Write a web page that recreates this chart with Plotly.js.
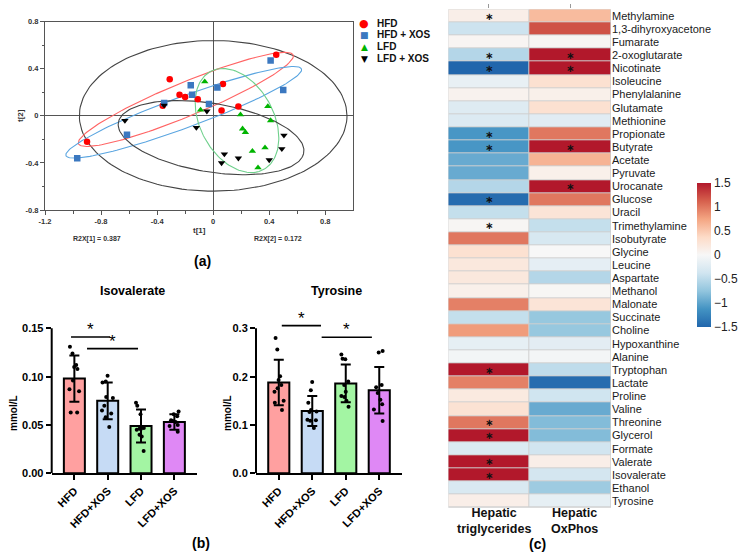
<!DOCTYPE html>
<html>
<head>
<meta charset="utf-8">
<script src="https://cdn.plot.ly/plotly-3.0.1.min.js"></script>
<style>html,body{margin:0;padding:0;background:#fff;}#chart{width:748px;height:560px;}</style>
</head>
<body>
<div id="chart"></div>
<script>
// ---------- Panel (a): score plot ----------
const hfdT1 = [-0.90, -0.36, -0.31, -0.24, -0.20, -0.11, 0.06, 0.07, 0.18, 0.45];
const hfdT2 = [-0.22, 0.085, 0.31, 0.18, 0.16, 0.14, 0.045, 0.27, 0.08, 0.52];
const hfdXosT1 = [-0.97, -0.615, -0.35, -0.16, -0.15, -0.03, 0.03, 0.41, 0.50];
const hfdXosT2 = [-0.36, -0.16, 0.11, 0.26, 0.18, 0.10, 0.24, 0.47, 0.22];
const lfdT1 = [-0.06, -0.09, 0.195, 0.21, 0.23, 0.28, 0.32, 0.37, 0.39, 0.41];
const lfdT2 = [0.29, 0.05, 0.01, -0.11, -0.14, -0.30, -0.44, -0.27, 0.08, -0.04];
const lfdXosT1 = [-0.63, -0.35, -0.12, -0.045, 0.06, 0.08, 0.18, 0.40, 0.49, 0.505];
const lfdXosT2 = [-0.04, 0.09, -0.10, 0.04, -0.40, -0.325, -0.36, -0.375, -0.28, -0.165];

// confidence ellipses: overall, HFD, HFD+XOS, LFD, LFD+XOS
const ellCx = [0, -0.195, -0.21, 0.17, -0.015];
const ellCy = [0, 0.14, 0.03, -0.04, -0.185];
const ellA = [0.955, 0.854, 0.918, 0.46, 0.674];
const ellB = [0.64, 0.14, 0.13, 0.27, 0.29];
const ellAngle = [0, 26.4, 23.8, -70, -11.7];
const ellColor = ['#444444', '#ff6464', '#5aa5e0', '#6fd08c', '#444444'];

const scoreNames = ['HFD', 'HFD + XOS', 'LFD', 'LFD + XOS'];
const scoreColors = ['#ff0000', '#3b78c0', '#00b400', '#000000'];
const scoreSymbols = ['circle', 'square', 'triangle-up', 'triangle-down'];
const legendGlyphs = ['\u25CF', '\u25A0', '\u25B2', '\u25BC'];

// ---------- Panel (b): bar charts ----------
const groups = ['HFD', 'HFD+XOS', 'LFD', 'LFD+XOS'];
const barColors = ['#ffa0a0', '#c6dbf5', '#a3f5a3', '#df88f5'];

const isoMean = [0.098, 0.075, 0.049, 0.053];
const isoSD = [0.024, 0.019, 0.017, 0.008];
const isoHFD = [0.131, 0.124, 0.112, 0.110, 0.108, 0.096, 0.087, 0.085, 0.063, 0.063];
const isoHFDXOS = [0.101, 0.095, 0.094, 0.079, 0.078, 0.070, 0.065, 0.062, 0.058, 0.048];
const isoLFD = [0.073, 0.070, 0.061, 0.047, 0.046, 0.046, 0.045, 0.040, 0.038, 0.023];
const isoLFDXOS = [0.064, 0.061, 0.059, 0.055, 0.054, 0.053, 0.050, 0.049, 0.043];

const tyrMean = [0.188, 0.129, 0.186, 0.172];
const tyrSD = [0.047, 0.031, 0.039, 0.048];
const tyrHFD = [0.280, 0.256, 0.201, 0.193, 0.183, 0.176, 0.169, 0.150, 0.146, 0.131];
const tyrHFDXOS = [0.189, 0.172, 0.146, 0.131, 0.128, 0.127, 0.111, 0.110, 0.109, 0.094];
const tyrLFD = [0.246, 0.237, 0.236, 0.190, 0.183, 0.169, 0.160, 0.158, 0.150, 0.138];
const tyrLFDXOS = [0.253, 0.250, 0.183, 0.178, 0.166, 0.152, 0.143, 0.132, 0.108];

// significance brackets: [x0, x1, y]
const isoSig = [[-0.1, 1.07, 0.141], [0.38, 1.91, 0.129]];
const tyrSig = [[0.09, 1.26, 0.3056], [1.28, 2.78, 0.2816]];

// ---------- Panel (c): correlation heatmap ----------
const metabolites = ['Methylamine','1,3-dihyroxyacetone','Fumarate','2-oxoglutarate','Nicotinate','Isoleucine','Phenylalanine','Glutamate','Methionine','Propionate','Butyrate','Acetate','Pyruvate','Urocanate','Glucose','Uracil','Trimethylamine','Isobutyrate','Glycine','Leucine','Aspartate','Methanol','Malonate','Succinate','Choline','Hypoxanthine','Alanine','Tryptophan','Lactate','Proline','Valine','Threonine','Glycerol','Formate','Valerate','Isovalerate','Ethanol','Tyrosine'];
const heatColumns = ['Hepatic triglycerides', 'Hepatic OxPhos'];
const tgCorr = [0.12,-0.4,0.04,-0.55,-1.5,-0.15,0.07,-0.25,-0.27,-1.1,-1.1,-0.95,-0.95,-0.55,-1.45,-0.45,0.03,1.0,0.3,0.2,0.2,0.1,0.95,-0.45,0.8,-0.17,-0.05,1.5,0.95,0.18,0.28,1.0,1.5,-0.28,1.5,1.5,-0.3,0.12];
const oxCorr = [0.6,1.2,0.03,1.5,1.5,0.3,0.1,0.3,-0.22,1.0,1.5,0.65,0.1,1.5,1.0,0.25,-0.45,-0.32,0.0,-0.18,-0.55,0.02,0.25,-0.72,-0.72,-0.2,-0.04,-0.48,-1.45,-0.38,-0.95,-0.82,-0.82,-0.37,0.12,-0.35,-0.68,-0.17];
const tgStarred = ['Methylamine','2-oxoglutarate','Nicotinate','Propionate','Butyrate','Glucose','Trimethylamine','Tryptophan','Threonine','Glycerol','Valerate','Isovalerate'];
const oxStarred = ['2-oxoglutarate','Nicotinate','Butyrate','Urocanate'];
const cbTicks = [-1.5, -1, -0.5, 0, 0.5, 1, 1.5];

// ================= build =================
const W = 748, H = 560;
const px = v => v / W;
const py = v => 1 - v / H;
const FONT = 'Liberation Sans, Arial, Helvetica, sans-serif';

function ellipsePts(cx, cy, a, b, angDeg) {
  const th = angDeg * Math.PI / 180, xs = [], ys = [];
  for (let i = 0; i <= 160; i++) {
    const t = 2 * Math.PI * i / 160;
    const u = a * Math.cos(t), v = b * Math.sin(t);
    xs.push(cx + u * Math.cos(th) - v * Math.sin(th));
    ys.push(cy + u * Math.sin(th) + v * Math.cos(th));
  }
  return [xs, ys];
}

const traces = [];
for (let i = 0; i < ellCx.length; i++) {
  const [xs, ys] = ellipsePts(ellCx[i], ellCy[i], ellA[i], ellB[i], ellAngle[i]);
  traces.push({type: 'scatter', mode: 'lines', x: xs, y: ys, xaxis: 'x', yaxis: 'y',
    line: {color: ellColor[i], width: 1.1}, hoverinfo: 'skip', showlegend: false});
}
const scoreX = [hfdT1, hfdXosT1, lfdT1, lfdXosT1];
const scoreY = [hfdT2, hfdXosT2, lfdT2, lfdXosT2];
for (let i = 0; i < 4; i++) {
  traces.push({type: 'scatter', mode: 'markers', x: scoreX[i], y: scoreY[i], name: scoreNames[i],
    xaxis: 'x', yaxis: 'y', showlegend: false,
    marker: {color: scoreColors[i], symbol: scoreSymbols[i], size: 6.5, line: {width: 0}}});
}

function barPanel(xa, ya, mean, sd, pts) {
  traces.push({type: 'bar', x: [0, 1, 2, 3], y: mean, xaxis: xa, yaxis: ya, width: 0.63,
    marker: {color: barColors, line: {color: '#000', width: 2}},
    error_y: {type: 'data', array: sd, visible: true, color: '#000', thickness: 2, width: 5},
    showlegend: false, hoverinfo: 'skip'});
  const xs = [], ys = [];
  pts.forEach((arr, gi) => arr.forEach(v => { xs.push(gi); ys.push(v); }));
  traces.push({type: 'box', x: xs, y: ys, xaxis: xa, yaxis: ya, boxpoints: 'all', jitter: 0.75,
    pointpos: 0, width: 0.5, fillcolor: 'rgba(0,0,0,0)', line: {color: 'rgba(0,0,0,0)', width: 0},
    marker: {color: '#000', size: 4}, showlegend: false, hoverinfo: 'skip'});
}
barPanel('x2', 'y2', isoMean, isoSD, [isoHFD, isoHFDXOS, isoLFD, isoLFDXOS]);
barPanel('x3', 'y3', tyrMean, tyrSD, [tyrHFD, tyrHFDXOS, tyrLFD, tyrLFDXOS]);

const STAR = '\u2217';
const zMat = metabolites.map((m, i) => [tgCorr[i], oxCorr[i]]);
const starMat = metabolites.map(m => [tgStarred.includes(m) ? STAR : '', oxStarred.includes(m) ? STAR : '']);
traces.push({type: 'heatmap', x: heatColumns, y: metabolites, z: zMat, text: starMat,
  texttemplate: '%{text}', textfont: {size: 10, color: '#111', family: 'DejaVu Sans', weight: 'bold'},
  xaxis: 'x4', yaxis: 'y4', zmin: -1.5, zmax: 1.5, xgap: 1, ygap: 1,
  colorscale: [[0, '#2166ac'], [0.125, '#4393c3'], [0.25, '#92c5de'], [0.375, '#d1e5f0'], [0.5, '#f7f7f7'],
    [0.625, '#fddbc7'], [0.75, '#f4a582'], [0.875, '#d6604d'], [1, '#b2182b']],
  colorbar: {x: px(697), xanchor: 'left', xpad: 0, ypad: 0, y: py(255), yanchor: 'middle',
    len: 144 / H, thickness: 14, outlinewidth: 0, ticks: '', tickvals: cbTicks,
    tickfont: {size: 12, family: FONT, color: '#222'}},
  hoverinfo: 'skip'});

const tickBold = (s, c) => ({size: s, family: FONT, color: c || '#000', weight: 'bold'});

const layout = {
  width: W, height: H, margin: {l: 0, r: 0, t: 0, b: 0},
  paper_bgcolor: '#fff', plot_bgcolor: 'rgba(0,0,0,0)', showlegend: false,
  font: {family: FONT},
  xaxis: {domain: [px(45), px(353.3)], range: [-1.2, 1.0], anchor: 'y',
    tickvals: [-1.2, -0.8, -0.4, 0, 0.4, 0.8], ticktext: ['-1.2', '-0.8', '-0.4', '0', '0.4', '0.8'],
    ticks: 'outside', ticklen: 4, tickcolor: '#555', tickwidth: 1,
    minor: {tickvals: [-1.0, -0.6, -0.2, 0.2, 0.6], ticks: 'outside', ticklen: 2.5, tickcolor: '#555'},
    showline: true, mirror: true, linecolor: '#555', linewidth: 1, showgrid: false,
    zeroline: true, zerolinecolor: '#555', zerolinewidth: 1, tickfont: tickBold(7.5, '#333')},
  yaxis: {domain: [py(210), py(21.7)], range: [-0.8, 0.8], anchor: 'x',
    tickvals: [-0.8, -0.4, 0, 0.4, 0.8], ticktext: ['-0.8', '-0.4', '0', '0.4', '0.8'],
    ticks: 'outside', ticklen: 4, tickcolor: '#555', tickwidth: 1,
    minor: {tickvals: [-0.6, -0.2, 0.2, 0.6], ticks: 'outside', ticklen: 2.5, tickcolor: '#555'},
    showline: true, mirror: true, linecolor: '#555', linewidth: 1, showgrid: false,
    zeroline: true, zerolinecolor: '#555', zerolinewidth: 1, tickfont: tickBold(7.5, '#333')},
  xaxis2: {domain: [px(51.7), px(196.7)], range: [-0.68, 3.67], anchor: 'y2',
    tickvals: [0, 1, 2, 3], ticktext: groups, tickangle: -45, ticks: 'outside', ticklen: 5, tickwidth: 2,
    tickcolor: '#000', showline: true, linecolor: '#000', linewidth: 2, showgrid: false, zeroline: false,
    tickfont: tickBold(11)},
  yaxis2: {domain: [py(473.3), py(318.7)], range: [0, 0.16], anchor: 'x2',
    tickvals: [0, 0.05, 0.10, 0.15], tickformat: '.2f', ticks: 'outside', ticklen: 5, tickwidth: 2,
    tickcolor: '#000', showline: false, showgrid: false, zeroline: false, tickfont: tickBold(11)},
  xaxis3: {domain: [px(256), px(401.7)], range: [-0.68, 3.67], anchor: 'y3',
    tickvals: [0, 1, 2, 3], ticktext: groups, tickangle: -45, ticks: 'outside', ticklen: 5, tickwidth: 2,
    tickcolor: '#000', showline: true, linecolor: '#000', linewidth: 2, showgrid: false, zeroline: false,
    tickfont: tickBold(11)},
  yaxis3: {domain: [py(473.3), py(318.7)], range: [0, 0.32], anchor: 'x3',
    tickvals: [0, 0.1, 0.2, 0.3], tickformat: '.1f', ticks: 'outside', ticklen: 5, tickwidth: 2,
    tickcolor: '#000', showline: false, showgrid: false, zeroline: false, tickfont: tickBold(11)},
  xaxis4: {domain: [px(448.3), px(611)], anchor: 'y4', side: 'top', showticklabels: false,
    ticks: 'outside', ticklen: 4, tickcolor: '#999', showgrid: false, zeroline: false, showline: false},
  yaxis4: {domain: [py(507.7), py(9.3)], anchor: 'x4', side: 'right', autorange: 'reversed',
    ticks: '', showgrid: false, zeroline: false, showline: false,
    tickfont: {size: 11, family: FONT, color: '#1a1a1a'}},
  shapes: [],
  annotations: []
};

// heatmap cell border background
layout.shapes.push({type: 'rect', xref: 'x4 domain', yref: 'y4 domain', x0: 0, x1: 1, y0: 0, y1: 1,
  fillcolor: '#cfcfcf', line: {width: 0}, layer: 'below'});

// y axis lines of bar panels (stop at top tick)
[['x2', 'y2', 0.15], ['x3', 'y3', 0.3]].forEach(([xa, ya, top]) => {
  layout.shapes.push({type: 'line', xref: xa + ' domain', yref: ya, x0: 0, x1: 0, y0: 0, y1: top,
    line: {color: '#000', width: 2}});
});
// significance brackets
[['x2', 'y2', isoSig], ['x3', 'y3', tyrSig]].forEach(([xa, ya, sig]) => {
  sig.forEach(s => {
    layout.shapes.push({type: 'line', xref: xa, yref: ya, x0: s[0], x1: s[1], y0: s[2], y1: s[2],
      line: {color: '#000', width: 1.6}});
    layout.annotations.push({xref: xa, yref: ya, x: (s[0] + s[1]) / 2, y: s[2], yanchor: 'bottom',
      yshift: -4, text: '*', showarrow: false, font: {size: 17, family: FONT, color: '#000'}});
  });
});

const ann = (x, y, text, font, extra) => layout.annotations.push(Object.assign(
  {xref: 'paper', yref: 'paper', x: px(x), y: py(y), text: text, showarrow: false, font: font,
   xanchor: 'center', yanchor: 'middle'}, extra || {}));

// panel a texts
ann(199, 230, 't[1]', tickBold(8, '#333'));
ann(20, 116, 't[2]', tickBold(8, '#333'), {textangle: -90});
ann(97, 239, 'R2X[1] = 0.387', tickBold(7, '#333'));
ann(278, 239, 'R2X[2] = 0.172', tickBold(7, '#333'));
ann(203, 261, '(a)', tickBold(14));
// manual legend
const legY = [23.3, 34.5, 46.5, 58.8];
for (let i = 0; i < 4; i++) {
  ann(364, legY[i], legendGlyphs[i], {size: i === 0 ? 11 : 9, family: 'DejaVu Sans', color: scoreColors[i]});
  ann(375, legY[i], scoreNames[i], tickBold(10, '#111'), {xanchor: 'left'});
}
// panel b texts
ann(132, 291, 'Isovalerate', tickBold(12.5));
ann(336, 291, 'Tyrosine', tickBold(12.5));
ann(13, 413, 'mmol/L', tickBold(10), {textangle: -90});
ann(227, 413, 'mmol/L', tickBold(10), {textangle: -90});
ann(201, 543, '(b)', tickBold(14));
// panel c texts
ann(494, 521, 'Hepatic<br>triglycerides', tickBold(12.5, '#111'));
ann(574, 521, 'Hepatic<br>OxPhos', tickBold(12.5, '#111'));
ann(537, 544, '(c)', tickBold(14));

Plotly.newPlot('chart', traces, layout, {staticPlot: true, displayModeBar: false});
</script>
</body>
</html>
